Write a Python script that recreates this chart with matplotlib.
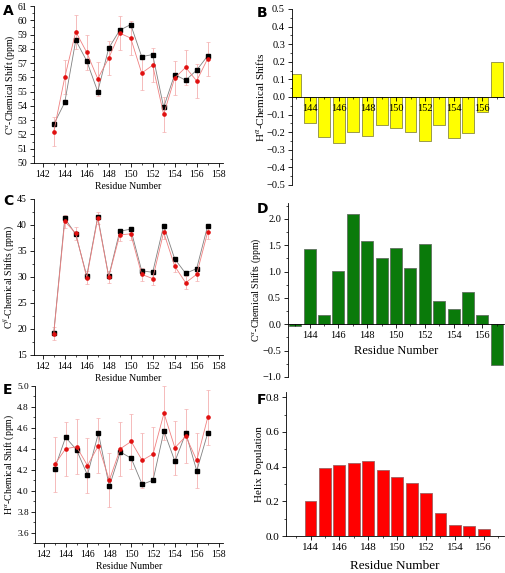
import matplotlib
matplotlib.use("Agg")
import matplotlib.pyplot as plt
from matplotlib.ticker import MultipleLocator, FormatStrFormatter

plt.rcParams['font.family'] = ['Liberation Serif', 'DejaVu Serif']
plt.rcParams['mathtext.fontset'] = 'stix'
plt.rcParams['font.size'] = 7

residues = list(range(143, 158))

# panel A - C-alpha shifts
ca_exp = [52.7, 54.25, 58.6, 57.15, 55.0, 58.05, 59.3, 59.7, 57.45, 57.6, 53.9, 56.2, 55.8, 56.5, 57.5]
ca_sim = [52.2, 56.0, 59.2, 57.75, 55.9, 57.35, 59.1, 58.75, 56.3, 56.85, 53.4, 55.95, 56.7, 55.75, 57.3]
ca_err = [1.0, 1.2, 1.2, 1.2, 1.2, 1.2, 1.2, 1.2, 1.2, 1.2, 1.2, 1.2, 1.2, 1.2, 1.2]

# panel B - H-alpha secondary shifts
ha_sec = [0.13, -0.15, -0.23, -0.26, -0.20, -0.22, -0.16, -0.175, -0.20, -0.25, -0.16, -0.235, -0.205, -0.085, 0.20]

# panel C - C-beta shifts
cb_exp = [19.3, 41.3, 38.2, 30.2, 41.6, 30.1, 38.8, 39.2, 31.2, 30.9, 39.9, 33.5, 30.7, 31.6, 39.8]
cb_sim = [19.1, 40.7, 38.4, 29.9, 41.3, 30.0, 38.1, 38.3, 30.5, 29.7, 38.6, 32.1, 28.9, 30.5, 38.6]
cb_err = [1.3, 1.2, 1.2, 1.2, 1.2, 1.2, 1.2, 1.2, 1.2, 1.2, 1.2, 1.2, 1.2, 1.2, 1.2]

# panel D - C-alpha secondary shifts
ca_sec = [-0.03, 1.42, 0.18, 1.01, 2.09, 1.57, 1.25, 1.45, 1.07, 1.53, 0.45, 0.29, 0.62, 0.18, -0.78]

# panel E - H-alpha shifts
ha_exp = [4.21, 4.51, 4.39, 4.15, 4.55, 4.04, 4.37, 4.31, 4.06, 4.10, 4.57, 4.28, 4.55, 4.19, 4.55]
ha_sim = [4.25, 4.40, 4.42, 4.24, 4.43, 4.10, 4.40, 4.47, 4.29, 4.35, 4.74, 4.41, 4.52, 4.29, 4.70]
ha_err = [0.26] * 15

# panel F - helix population
helix_res = list(range(144, 157))
helix_pop = [0.20, 0.39, 0.41, 0.42, 0.43, 0.38, 0.34, 0.305, 0.25, 0.13, 0.065, 0.058, 0.04]

W, H = 506, 573
fig = plt.figure(figsize=(W / 100, H / 100), dpi=100)


def box(l, t, r, b):
    return [l / W, 1 - b / H, (r - l) / W, (b - t) / H]


def style(ax):
    ax.spines['top'].set_visible(False)
    ax.spines['right'].set_visible(False)
    ax.tick_params(direction='out', length=3, width=0.6, pad=2)
    ax.tick_params(which='minor', direction='out', length=1.5, width=0.5)
    for s in ax.spines.values():
        s.set_linewidth(0.6)


def put_ylabel(ax, text, xpix, left, size=7):
    # right edge of the rotated y label at a fixed pixel column
    ax.set_ylabel(text, fontsize=size)
    w = ax.get_position().width * W
    ax.yaxis.set_label_coords((xpix - left) / w, 0.5)


def line_panel(ax, exp, sim, err, ylo, yhi, ystep, ylabel, lab_x=17):
    ax.errorbar(residues, sim, yerr=err, color='#f08080', lw=0.6, marker='o', ms=2.3,
                mfc='#e01010', mec='#e01010', ecolor='#f4b0b0', elinewidth=0.6, capsize=1.5, capthick=0.5)
    ax.plot(residues, exp, color='#808080', lw=0.6, marker='s', ms=2.3, mfc='black', mec='black')
    ax.set_xlim(141.2, 158.4)
    ax.set_ylim(ylo, yhi)
    ax.xaxis.set_major_locator(MultipleLocator(2))
    ax.xaxis.set_minor_locator(MultipleLocator(1))
    ax.yaxis.set_major_locator(MultipleLocator(ystep))
    ax.yaxis.set_minor_locator(MultipleLocator(ystep / 2))
    ax.set_xlabel('Residue Number', labelpad=2)
    put_ylabel(ax, ylabel, lab_x, 34)
    style(ax)


axA = fig.add_axes(box(34, 6, 223, 163))
line_panel(axA, ca_exp, ca_sim, ca_err, 50, 61, 1, r'C$^{\alpha}$-Chemical Shift (ppm)')

axC = fig.add_axes(box(34, 199, 223, 355))
line_panel(axC, cb_exp, cb_sim, cb_err, 15, 45, 5, r'C$^{\beta}$-Chemical Shifts (ppm)')

axE = fig.add_axes(box(35, 386, 223, 543))
line_panel(axE, ha_exp, ha_sim, ha_err, 3.5, 5.0, 0.2, r'H$^{\alpha}$-Chemical Shift (ppm)', lab_x=15)
axE.set_yticks([3.6, 3.8, 4.0, 4.2, 4.4, 4.6, 4.8, 5.0])
axE.yaxis.set_minor_locator(MultipleLocator(0.1))
axE.yaxis.set_major_formatter(FormatStrFormatter('%.1f'))
axE.tick_params(axis='y', labelsize=6.7, pad=1.5)


def bar_panel(ax, x, y, color, edge):
    ax.bar(x, y, width=0.82, color=color, edgecolor=edge, linewidth=0.6)
    ax.xaxis.set_major_locator(MultipleLocator(2))
    ax.xaxis.set_minor_locator(MultipleLocator(1))
    style(ax)


axB = fig.add_axes(box(292, 9, 504, 185))
bar_panel(axB, residues, ha_sec, '#ffff00', '#8a8a40')
axB.set_xlim(142.75, 157.5)
axB.set_ylim(-0.5, 0.5)
axB.set_xticks(range(144, 157, 2))
axB.yaxis.set_major_locator(MultipleLocator(0.1))
axB.yaxis.set_minor_locator(MultipleLocator(0.05))
axB.spines['bottom'].set_position(('data', 0))
axB.tick_params(labelsize=7.5)
put_ylabel(axB, r'H$^{\alpha}$-Chemical Shifts', 266, 292, size=8)

axD = fig.add_axes(box(288, 203, 504, 377))
bar_panel(axD, residues, ca_sec, '#0a7a0a', '#607060')
axD.set_xlim(142.5, 157.5)
axD.set_ylim(-1.0, 2.3)
axD.set_xticks(range(144, 157, 2))
axD.yaxis.set_major_locator(MultipleLocator(0.5))
axD.yaxis.set_minor_locator(MultipleLocator(0.25))
axD.spines['bottom'].set_position(('data', 0))
axD.tick_params(labelsize=7.5)
put_ylabel(axD, r'C$^{\alpha}$-Chemical Shifts (ppm)', 263, 288)
axD.text(150, -0.5, 'Residue Number', ha='center', va='center', fontsize=9)

axF = fig.add_axes(box(286, 392, 504, 536))
bar_panel(axF, helix_res, helix_pop, '#ff0000', '#a06060')
axF.set_xlim(142.3, 157.4)
axF.set_ylim(0, 0.83)
axF.set_xticks(range(144, 157, 2))
axF.yaxis.set_major_locator(MultipleLocator(0.2))
axF.yaxis.set_minor_locator(MultipleLocator(0.1))
put_ylabel(axF, 'Helix Population', 264, 286, size=8)
axF.set_xlabel('Residue Number', fontsize=9.5, labelpad=6)
axF.tick_params(labelsize=8)

for letter, x, y in [('A', 3, 4), ('B', 257, 6), ('C', 3, 194), ('D', 257, 202), ('E', 3, 383), ('F', 257, 393)]:
    fig.text(x / W, 1 - y / H, letter, fontsize=10, fontweight='bold',
             family='DejaVu Sans', ha='left', va='top')

fig.savefig('out.png', dpi=100)
